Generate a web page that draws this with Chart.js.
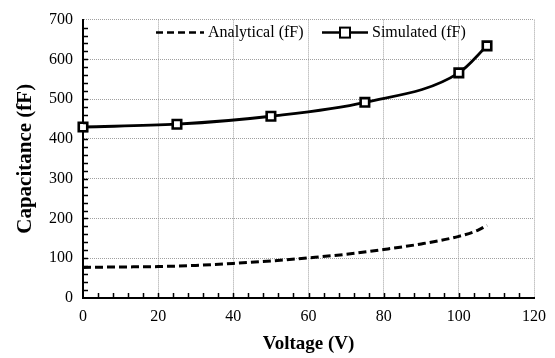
<!DOCTYPE html>
<html>
<head>
<meta charset="utf-8">
<script src="https://cdn.jsdelivr.net/npm/chart.js@4/dist/chart.umd.min.js"></script>
<style>
  html, body { margin: 0; padding: 0; background: #fff; }
  #wrap { width: 555px; height: 358px; }
</style>
</head>
<body>
<div id="wrap"><canvas id="c"></canvas></div>
<script>
const analyticalV = [0, 10, 20, 30, 40, 50, 60, 70, 80, 90, 100, 105, 107.5];
const analyticalC = [77, 78, 79, 82, 87, 93, 101, 110, 122, 136, 155, 170, 183];
const simulatedV = [0, 25, 50, 75, 100, 107.5];
const simulatedC = [430, 437, 457, 492, 566, 634];
const seriesLabels = ['Analytical (fF)', 'Simulated (fF)'];

const FONT = '"Liberation Serif", "Times New Roman", serif';

// minor tick marks pointing into the plot, like the original
const minorTicks = {
  id: 'minorTicks',
  afterDraw(chart) {
    const { ctx, chartArea: a, scales: { x, y } } = chart;
    ctx.save();
    ctx.strokeStyle = '#000';
    ctx.lineWidth = 1.5;
    ctx.beginPath();
    for (let v = 4; v < 120; v += 4) {
      const px = Math.round(x.getPixelForValue(v)) + 0.5;
      ctx.moveTo(px, a.bottom);
      ctx.lineTo(px, a.bottom - 5);
    }
    for (let v = 20; v < 700; v += 20) {
      const py = Math.round(y.getPixelForValue(v)) + 0.5;
      ctx.moveTo(a.left, py);
      ctx.lineTo(a.left + 5, py);
    }
    ctx.stroke();
    ctx.restore();
  },
};

// legend drawn inside the plot area
const insideLegend = {
  id: 'insideLegend',
  afterDraw(chart) {
    const { ctx, chartArea: a } = chart;
    const ly = a.top + 13;
    ctx.save();
    ctx.font = '16px ' + FONT;
    ctx.fillStyle = '#000';
    ctx.textBaseline = 'middle';
    ctx.strokeStyle = '#000';
    ctx.lineWidth = 2.5;

    // analytical: dashed
    ctx.setLineDash([7, 4]);
    ctx.beginPath();
    ctx.moveTo(a.left + 73, ly);
    ctx.lineTo(a.left + 121, ly);
    ctx.stroke();
    ctx.setLineDash([]);
    ctx.fillText(seriesLabels[0], a.left + 125, ly);

    // simulated: solid with square marker
    ctx.beginPath();
    ctx.moveTo(a.left + 239, ly);
    ctx.lineTo(a.left + 285, ly);
    ctx.stroke();
    ctx.fillStyle = '#fff';
    ctx.lineWidth = 2;
    ctx.fillRect(a.left + 257, ly - 5, 10, 10);
    ctx.strokeRect(a.left + 257, ly - 5, 10, 10);
    ctx.fillStyle = '#000';
    ctx.fillText(seriesLabels[1], a.left + 289, ly);
    ctx.restore();
  },
};

new Chart(document.getElementById('c'), {
  type: 'line',
  data: {
    datasets: [
      {
        label: seriesLabels[0],
        data: analyticalV.map((v, i) => ({ x: v, y: analyticalC[i] })),
        borderColor: '#000',
        borderWidth: 3,
        borderDash: [8, 4],
        pointRadius: 0,
        cubicInterpolationMode: 'monotone',
        fill: false,
        clip: false,
      },
      {
        label: seriesLabels[1],
        data: simulatedV.map((v, i) => ({ x: v, y: simulatedC[i] })),
        borderColor: '#000',
        borderWidth: 2.8,
        pointStyle: 'rect',
        pointRadius: 6,
        pointBorderWidth: 2.6,
        pointBackgroundColor: '#fff',
        pointBorderColor: '#000',
        cubicInterpolationMode: 'monotone',
        fill: false,
        clip: false,
      },
    ],
  },
  options: {
    responsive: true,
    maintainAspectRatio: false,
    animation: false,
    layout: { padding: { top: 18, right: 20, left: 0, bottom: 0 } },
    plugins: { legend: { display: false }, tooltip: { enabled: false } },
    scales: {
      x: {
        type: 'linear',
        min: 0,
        max: 120,
        ticks: { stepSize: 20, color: '#000', padding: 9, font: { family: FONT, size: 16 } },
        grid: { color: '#a0a0a0', lineWidth: 1, drawTicks: false },
        border: { color: '#000', width: 2, dash: [1, 1] },
        title: { display: true, text: 'Voltage (V)', color: '#000', padding: { top: 0, bottom: 3 }, font: { family: FONT, size: 19, weight: 'bold' } },
        afterFit: s => { s.height = 60; },
      },
      y: {
        min: 0,
        max: 700,
        ticks: { stepSize: 100, color: '#000', padding: 10, font: { family: FONT, size: 16 } },
        grid: { color: '#a0a0a0', lineWidth: 1, drawTicks: false },
        border: { color: '#000', width: 2, dash: [1, 1] },
        title: { display: true, text: 'Capacitance (fF)', color: '#000', padding: { top: 13, bottom: 0 }, font: { family: FONT, size: 21, weight: 'bold' } },
        afterFit: s => { s.width = 83; },
      },
    },
  },
  plugins: [minorTicks, insideLegend],
});
</script>
</body>
</html>
